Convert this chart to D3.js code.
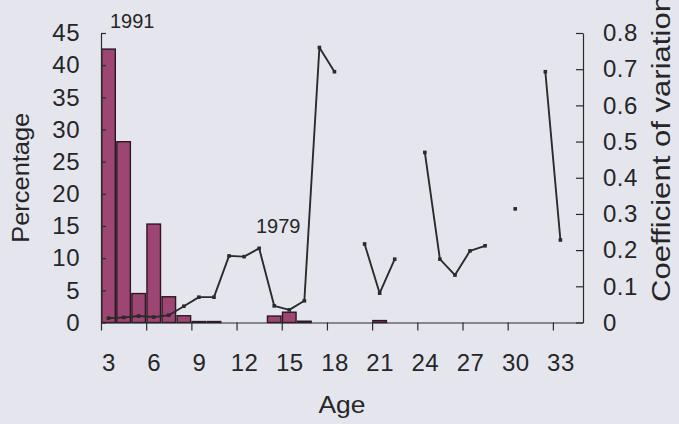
<!DOCTYPE html>
<html>
<head>
<meta charset="utf-8">
<script src="https://cdn.jsdelivr.net/npm/d3@7"></script>
<style>
  html, body { margin: 0; padding: 0; background: #e5e5ee; }
  svg { display: block; font-family: Arial, "Liberation Sans", Helvetica, sans-serif; }
</style>
</head>
<body>
<svg id="chart" width="679" height="424"></svg>
<script>
// Age classes (one category per year of age)
const ages = [3, 4, 5, 6, 7, 8, 9, 10, 11, 12, 13, 14, 15, 16, 17, 18,
              19, 20, 21, 22, 23, 24, 25, 26, 27, 28, 29, 30, 31, 32, 33, 34];

// Age composition, 1991 (percentage of catch)
const percent1991 = [42.5, 28.1, 4.5, 15.3, 4.0, 1.05, 0.15, 0.15, 0, 0, 0, 1.0, 1.6, 0.2, 0, 0,
                     0, 0, 0.3, 0, 0, 0, 0, 0, 0, 0, 0, 0, 0, 0, 0, 0];

// Coefficient of variation by age (null = not estimated)
const cv1979 = [0.012, 0.014, 0.018, 0.015, 0.02, 0.045, 0.07, 0.07, 0.184, 0.182, 0.205, 0.046, 0.035, 0.06, 0.76, 0.693,
                null, 0.217, 0.081, 0.175, null, 0.47, 0.175, 0.131, 0.198, 0.212, null, 0.314, null, 0.693, 0.228, null];

// Axis ticks
const ageLabels = [3, 6, 9, 12, 15, 18, 21, 24, 27, 30, 33];
const percentTicks = [0, 5, 10, 15, 20, 25, 30, 35, 40, 45];
const cvTicks = [0, 0.1, 0.2, 0.3, 0.4, 0.5, 0.6, 0.7, 0.8];

const svg = d3.select("#chart");
const plotLeft = 101, plotRight = 583, plotTop = 33, plotBottom = 322.5;

const x = d3.scaleLinear().domain([ages[0] - 0.5, ages[ages.length - 1] + 0.5]).range([plotLeft, plotRight]);
const yPct = d3.scaleLinear().domain([0, 45]).range([plotBottom, plotTop]);
const yCv = d3.scaleLinear().domain([0, 0.8]).range([plotBottom, plotTop]);
const band = x(1) - x(0);
const barW = band * 0.9;

const ink = "#2b2b2b";

// Bars: percentage at age
const rows = ages.map((a, i) => ({ age: a, pct: percent1991[i], cv: cv1979[i] }));
svg.append("g")
  .selectAll("rect")
  .data(rows.filter(d => d.pct > 0))
  .join("rect")
  .attr("x", d => x(d.age) - barW / 2)
  .attr("width", barW)
  .attr("y", d => yPct(d.pct))
  .attr("height", d => yPct(0) - yPct(d.pct))
  .attr("fill", "#9e4673")
  .attr("stroke", "#2a1822")
  .attr("stroke-width", 1.4);

// Coefficient of variation line, broken where no estimate exists
const line = d3.line()
  .defined(d => d.cv != null)
  .x(d => x(d.age))
  .y(d => yCv(d.cv));
svg.append("path")
  .datum(rows)
  .attr("d", line)
  .attr("fill", "none")
  .attr("stroke", ink)
  .attr("stroke-width", 1.9)
  .attr("stroke-linejoin", "round");
svg.append("g")
  .selectAll("rect")
  .data(rows.filter(d => d.cv != null))
  .join("rect")
  .attr("x", d => x(d.age) - 1.8)
  .attr("y", d => yCv(d.cv) - 1.8)
  .attr("width", 3.6)
  .attr("height", 3.6)
  .attr("fill", ink);

// Left axis: percentage
const gL = svg.append("g")
  .attr("transform", `translate(${plotLeft},0)`)
  .call(d3.axisLeft(yPct).tickValues(percentTicks).tickSizeInner(-5).tickSizeOuter(0).tickPadding(21));

// Right axis: coefficient of variation
const gR = svg.append("g")
  .attr("transform", `translate(${plotRight},0)`)
  .call(d3.axisRight(yCv).tickValues(cvTicks).tickSizeInner(-7).tickSizeOuter(0).tickPadding(20)
    .tickFormat(d => d === 0 ? "0" : d3.format(".1f")(d)));

// Bottom axis: tick marks at class boundaries, labels at class centres
const gB = svg.append("g")
  .attr("transform", `translate(0,${plotBottom})`)
  .call(d3.axisBottom(x).tickValues(ageLabels.map(a => a - 0.5)).tickSize(8).tickSizeOuter(0).tickFormat(""));
const gBL = svg.append("g")
  .attr("transform", `translate(0,${plotBottom})`)
  .call(d3.axisBottom(x).tickValues(ageLabels).tickSize(0).tickPadding(31));
gBL.select(".domain").remove();

[gL, gR, gB, gBL].forEach(g => {
  g.selectAll(".domain, line").attr("stroke", ink).attr("stroke-width", 1.2);
  g.selectAll("text")
    .attr("font-family", "Arial, 'Liberation Sans', Helvetica, sans-serif")
    .attr("font-size", 24)
    .attr("letter-spacing", 0.5)
    .attr("fill", "#262626");
});

// Axis titles
svg.append("text")
  .attr("transform", `translate(29,${(plotTop + plotBottom) / 2}) rotate(-90)`)
  .attr("text-anchor", "middle")
  .attr("font-size", 24)
  .attr("textLength", 130)
  .attr("lengthAdjust", "spacingAndGlyphs")
  .attr("fill", "#262626")
  .text("Percentage");

svg.append("text")
  .attr("transform", "translate(670,302) rotate(-90)")
  .attr("text-anchor", "start")
  .attr("font-size", 25)
  .attr("textLength", 307)
  .attr("lengthAdjust", "spacingAndGlyphs")
  .attr("fill", "#262626")
  .text("Coefficient of variation");

svg.append("text")
  .attr("x", (plotLeft + plotRight) / 2)
  .attr("y", 413)
  .attr("text-anchor", "middle")
  .attr("font-size", 24)
  .attr("textLength", 47)
  .attr("lengthAdjust", "spacingAndGlyphs")
  .attr("fill", "#262626")
  .text("Age");

// Year annotations
svg.append("text").attr("x", 110).attr("y", 28).attr("font-size", 20).attr("fill", "#262626").text("1991");
svg.append("text").attr("x", 256).attr("y", 233).attr("font-size", 20).attr("fill", "#262626").text("1979");
</script>
</body>
</html>
